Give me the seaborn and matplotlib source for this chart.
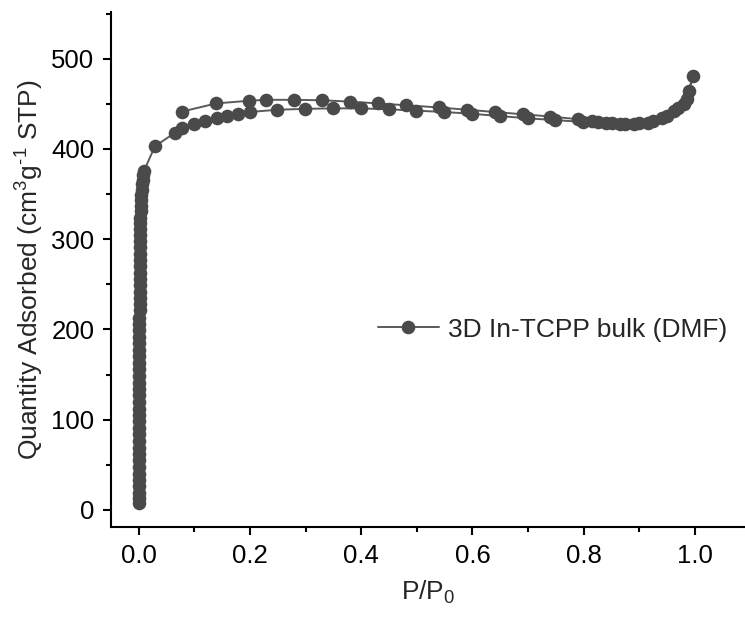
import matplotlib
matplotlib.use("Agg")
import matplotlib.pyplot as plt
from matplotlib.ticker import MultipleLocator, FormatStrFormatter
import pandas as pd
import seaborn as sns

# N2 isotherm at 77 K: adsorption branch followed by desorption branch
ads_low_p = [0.00001, 0.00002, 0.00003, 0.00004, 0.00005, 0.00006, 0.00008, 0.0001,
             0.00012, 0.00014, 0.00016, 0.00018, 0.0002, 0.00023, 0.00026, 0.0003,
             0.00034, 0.00038, 0.00042, 0.00047, 0.00052, 0.00058, 0.00064, 0.0007,
             0.00077, 0.00085, 0.00093, 0.001, 0.0011, 0.0012, 0.0013, 0.0014,
             0.0015, 0.0016, 0.0017, 0.0018, 0.0019, 0.002, 0.0021, 0.0022,
             0.0023, 0.0024, 0.0025, 0.0026, 0.0028, 0.003, 0.0033, 0.0036,
             0.004, 0.0045, 0.005, 0.006, 0.007, 0.008, 0.0095]
ads_low_q = [8, 13, 19, 26, 33, 40, 47, 55, 62, 69, 76, 84, 91, 98, 105, 112,
             120, 127, 134, 141, 148, 156, 163, 170, 177, 185, 192, 199, 206, 213,
             221, 228, 235, 242, 249, 256, 263, 270, 277, 284, 291, 298, 305, 311,
             318, 324, 331, 337, 343, 349, 355, 361, 366, 371, 376]

ads_p = [0.029, 0.065, 0.078, 0.099, 0.119, 0.140, 0.159, 0.179, 0.200, 0.249,
         0.299, 0.349, 0.399, 0.449, 0.499, 0.549, 0.599, 0.649, 0.699, 0.749,
         0.799, 0.825, 0.850, 0.875, 0.900, 0.925, 0.950, 0.970, 0.985, 0.996]
ads_q = [403, 418, 423, 428, 431.5, 434, 437, 439, 441, 443.5,
         444.5, 445, 445, 444, 442.5, 441, 439, 436.5, 434, 432,
         430, 429.5, 428.5, 428, 428.5, 431, 437, 445, 455, 481]

des_p = [0.990, 0.980, 0.962, 0.940, 0.915, 0.890, 0.865, 0.840, 0.815, 0.790,
         0.740, 0.690, 0.640, 0.590, 0.540, 0.480, 0.430, 0.380, 0.330, 0.279,
         0.229, 0.199, 0.139, 0.078]
des_q = [464, 450, 442, 434, 429, 427.5, 428, 429, 430.5, 433,
         436, 438.5, 441, 443.5, 446, 448.5, 450.5, 452.5, 454, 454.5,
         454.5, 453.5, 450.5, 441.5]

series_label = "3D In-TCPP bulk (DMF)"

df = pd.DataFrame({
    "p": ads_low_p + ads_p + des_p,
    "q": ads_low_q + ads_q + des_q,
})
df["sample"] = series_label

sns.set_theme(style="ticks")
plt.rcParams["font.family"] = ["Liberation Sans", "DejaVu Sans"]
plt.rcParams["mathtext.fontset"] = "custom"
plt.rcParams["mathtext.rm"] = "Liberation Sans"
plt.rcParams["mathtext.it"] = "Liberation Sans"

fig = plt.figure(figsize=(7.45, 6.21), dpi=100)
ax = fig.add_axes([0.149, 0.1514, 0.851, 0.8295])

sns.lineplot(data=df, x="p", y="q", hue="sample", palette=["#5a5a5a"],
             sort=False, estimator=None, marker="o", markersize=9.8,
             markerfacecolor="#4a4a4a", markeredgecolor="#4a4a4a",
             markeredgewidth=0, linewidth=1.4, ax=ax)

ax.set_xlim(-0.05, 1.09)
ax.set_ylim(-19, 552)
ax.xaxis.set_major_locator(MultipleLocator(0.2))
ax.xaxis.set_minor_locator(MultipleLocator(0.1))
ax.yaxis.set_major_locator(MultipleLocator(100))
ax.yaxis.set_minor_locator(MultipleLocator(50))
ax.xaxis.set_major_formatter(FormatStrFormatter("%.1f"))

for side in ("top", "right"):
    ax.spines[side].set_visible(False)
for side in ("left", "bottom"):
    ax.spines[side].set_linewidth(1.5)
    ax.spines[side].set_color("black")

ax.tick_params(axis="both", which="major", direction="out", length=6,
               width=1.5, colors="black", labelsize=18.5, pad=6)
ax.tick_params(axis="both", which="minor", direction="out", length=3.5,
               width=1.5, colors="black")

ax.set_xlabel("P/P$_0$", fontsize=19, labelpad=8)
ax.set_ylabel(r"Quantity Adsorbed (cm$^3$g$^{\text{-}1}$ STP)", fontsize=19,
              labelpad=4)

ax.legend(loc="center left", bbox_to_anchor=(0.421, 0.383), frameon=False,
          fontsize=19, handlelength=2.3, handletextpad=0.35,
          borderpad=0, borderaxespad=0)

fig.savefig("out.png", dpi=100)
